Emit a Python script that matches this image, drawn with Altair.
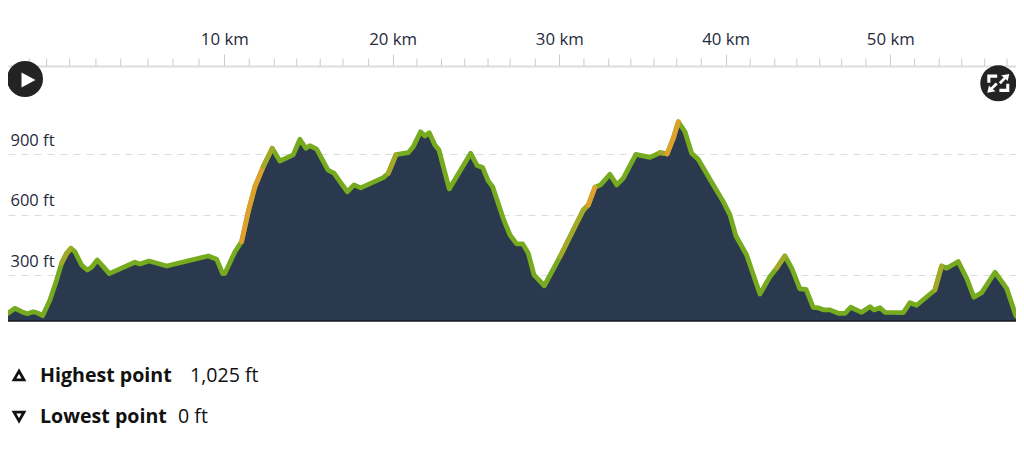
import altair as alt
import pandas as pd

km = [-3.0,-2.58,-2.18,-1.84,-1.48,-1.18,-0.92,-0.48,-0.08,0.22,0.52,0.78,1.02,1.42,1.76,2.02,2.36,2.72,3.08,4.62,
      4.92,5.47,6.53,9.03,9.53,9.89,10.03,10.63,11.03,11.43,11.83,12.33,12.87,13.33,14.13,14.53,14.89,15.13,15.54,16.22,
      16.58,16.94,17.38,17.78,18.18,19.54,19.84,20.30,21.04,21.34,21.78,22.04,22.30,22.64,22.88,23.50,24.79,25.18,25.51,25.84,
      26.11,26.74,27.15,27.55,27.91,28.25,28.59,29.21,30.15,30.95,31.55,31.85,32.25,32.59,33.15,33.56,33.95,34.71,35.56,36.16,
      36.59,36.96,37.26,37.66,38.06,38.46,39.36,39.96,40.36,40.72,41.36,42.16,42.76,43.16,43.66,44.07,44.56,44.93,45.36,45.66,
      46.01,46.37,46.87,47.27,47.61,48.27,48.77,49.01,49.37,49.67,50.77,51.17,51.57,52.67,53.07,53.37,54.07,54.58,55.01,55.48,
      56.28,56.98,57.54]
ft = [110,135,118,108,118,110,98,176,276,359,408,433,416,350,325,339,375,342,307,364,
      355,370,345,395,379,307,309,416,466,615,739,839,930,867,897,975,930,943,926,822,
      807,764,714,748,733,784,806,898,908,938,1012,991,1007,946,922,728,905,844,834,768,
      739,582,499,455,455,408,301,247,391,524,623,648,736,748,801,748,781,900,885,908,
      902,980,1062,1012,905,875,748,665,599,494,400,206,292,334,395,334,231,229,140,137,
      127,127,110,110,140,115,143,127,138,115,113,163,150,226,345,334,367,284,190,213,
      314,234,97]

major_km = [9.99,20.10,30.11,40.10,49.99]
minor_km = [-1.72,-0.68,0.70,2.28,3.77,5.41,6.91,8.47,11.49,12.99,14.34,15.75,17.12,18.66,21.56,23.04,24.43,25.83,
            27.16,28.67,31.59,33.08,34.41,35.80,37.16,38.64,41.58,43.05,44.38,45.75,47.07,48.53,51.45,52.93,54.28,55.66,57.00]
y_ticks = [300,600,900]
baseline_ft = 72

orange_spans = [(11.03,12.33),(36.59,37.26),(32.0,32.25)]
amber_spans = [(0.22,0.78),(12.33,12.87),(19.84,20.30),(30.15,32.0),(36.2,36.59),(43.16,43.66),(52.67,53.07)]

legend_names = ["Highest point","Lowest point"]
legend_values = ["1,025 ft","0 ft"]

GREEN = "#76ab1f"; ORANGE = "#e0a02c"; AMBER = "#a3a927"; NAVY = "#2a394d"; INK = "#1f2a3c"
FONT = "Open Sans"
LW = 4.8

profile = pd.DataFrame({"km": km, "ft": ft, "base": [baseline_ft]*len(km)})

def tone(a, b):
    mid = (a + b) / 2
    if any(s <= mid <= e for s, e in orange_spans):
        return ORANGE
    if any(s <= mid <= e for s, e in amber_spans):
        return AMBER
    return None

segs = []
for i in range(len(km) - 1):
    c = tone(km[i], km[i + 1])
    if c:
        segs.append({"km": km[i], "km2": km[i + 1], "ft": ft[i], "ft2": ft[i + 1], "tone": c})
segments = pd.DataFrame(segs)

xs = alt.Scale(domain=[-3.0, 57.54], nice=False, zero=False)
ys = alt.Scale(domain=[-584, 1627], nice=False, zero=False)
x_axis = alt.Axis(
    orient="top", offset=-58, values=major_km, title=None, grid=False,
    labelExpr="format(round(datum.value/10)*10,'d') + ' km'",
    labelFont=FONT, labelFontSize=16.8, labelColor=INK, labelPadding=6, labelBaseline="bottom",
    tickSize=12, tickColor="#c9c9d0", tickWidth=1,
    domainColor="#dcdce1", domainWidth=2)
y_axis = alt.Axis(
    orient="left", values=y_ticks, title=None, grid=True, gridDash=[7, 6], gridColor="#dcdcdc", gridWidth=1.2,
    domain=False, ticks=False, labelExpr="datum.value + ' ft'", labelAlign="left", labelPadding=-2, labelOffset=-14,
    labelFont=FONT, labelFontSize=16.5, labelColor=INK)
X = alt.X("km:Q", scale=xs, axis=x_axis)
Y = alt.Y("ft:Q", scale=ys, axis=y_axis)

area = alt.Chart(profile).mark_area(color=NAVY, clip=True).encode(x=X, y=Y, y2="base:Q")
line = alt.Chart(profile).mark_line(color=GREEN, strokeWidth=LW, strokeJoin="round", strokeCap="round", clip=True).encode(x=X, y=Y)
tinted = alt.Chart(segments).mark_rule(strokeWidth=LW, strokeCap="round", clip=True).encode(
    x=X, x2="km2:Q", y=Y, y2="ft2:Q",
    color=alt.Color("tone:N", scale=None, legend=None))
base_rule = alt.Chart(pd.DataFrame({"ft": [baseline_ft]})).mark_rule(color="#15191f", strokeWidth=1.6).encode(y=Y)
minor = alt.Chart(pd.DataFrame({"km": minor_km})).mark_rule(color="#c9c9d0", strokeWidth=1).encode(
    x=X, y=alt.value(50.5), y2=alt.value(58))

one = pd.DataFrame({"k": [0]})
def icon(px, py, **kw):
    size = kw.pop("size")
    return alt.Chart(one).mark_point(size=size, **kw).encode(x=alt.value(px), y=alt.value(py))

play_bg = icon(17, 71, shape="circle", filled=True, color="#232323", opacity=1, size=1296)
play_fg = icon(19.5, 72, shape="M-0.75,-0.95L1,0L-0.75,0.95Z", filled=True, color="#ffffff", opacity=1, size=256)
exp_bg = icon(990.3, 75.3, shape="circle", filled=True, color="#232323", opacity=1, size=1296)
exp_path = ("M-1,-0.8L-0.1,-0.8L-0.1,-0.5L-0.72,-0.5L-0.72,-0.05L-1,-0.05Z"
            "M1,0.8L0.1,0.8L0.1,0.5L0.72,0.5L0.72,0.05L1,0.05Z"
            "M0.05,-0.1L0.5,-0.55L0.25,-0.72L1,-0.85L0.85,-0.2L0.68,-0.38L0.23,0.08Z"
            "M-0.05,0.1L-0.5,0.55L-0.25,0.72L-1,0.85L-0.85,0.2L-0.68,0.38L-0.23,-0.08Z")
exp_fg = icon(990.3, 75.3, shape=exp_path, filled=True, color="#ffffff", opacity=1, size=484)

tri_up = icon(11, 367.5, shape="triangle-up", filled=False, color="#111111", opacity=1, strokeWidth=2.8, size=100)
tri_dn = icon(11, 408.5, shape="triangle-down", filled=False, color="#111111", opacity=1, strokeWidth=2.8, size=100)

def label(txt, px, py, bold):
    return alt.Chart(pd.DataFrame({"t": [txt]})).mark_text(
        align="left", baseline="middle", font=FONT, fontSize=19.6,
        fontWeight="bold" if bold else "normal", color="#111111").encode(
        text="t:N", x=alt.value(px), y=alt.value(py))

texts = [label(legend_names[0], 32, 367.5, True), label(legend_values[0], 182, 367.5, False),
         label(legend_names[1], 32, 408.5, True), label(legend_values[1], 170, 408.5, False)]

chart = alt.layer(
    area, base_rule, line, tinted, minor, play_bg, play_fg, exp_bg, exp_fg, tri_up, tri_dn, *texts
).properties(width=1008, height=445, padding=0, autosize=alt.AutoSizeParams(type="none")).configure_view(stroke=None)

chart.save("out.html", embed_options={"renderer": "svg", "actions": False})
